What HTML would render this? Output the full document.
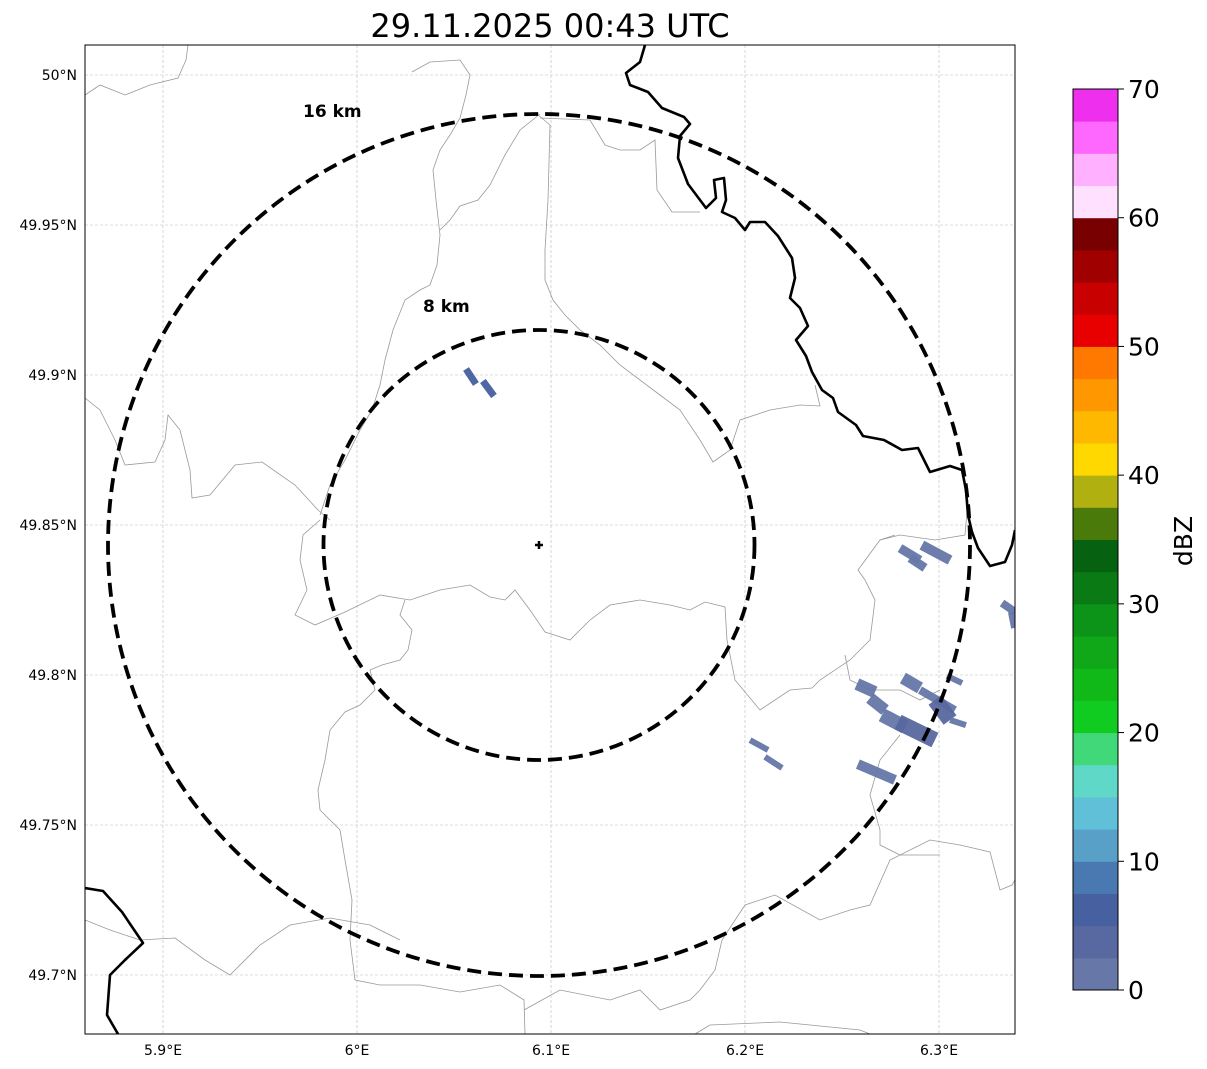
<!DOCTYPE html>
<html><head><meta charset="utf-8"><style>
html,body{margin:0;padding:0;background:#fff}
svg{display:block;font-family:"DejaVu Sans","Liberation Sans",sans-serif}
</style></head><body>
<svg id="chart" width="1207" height="1069" viewBox="0 0 1207 1069" xmlns="http://www.w3.org/2000/svg">
<rect width="1207" height="1069" fill="#fff"/>
<text x="550" y="37" font-size="32" text-anchor="middle">29.11.2025 00:43 UTC</text>
<defs><clipPath id="mapclip"><rect x="85" y="45" width="930" height="989"/></clipPath></defs>
<g id="grid"></g>
<g clip-path="url(#mapclip)">
 <g fill="none" stroke="#999" stroke-width="0.8">
  <polyline points="85,95 100,85 125,95 150,85 178,78 186,60 188,45"/>
  <polyline points="412,72 430,62 460,60 470,75 466,95 460,118 450,135 440,150 433,170 436,200 440,235 437,265 430,285 420,290 405,300 393,330 385,360 380,385 372,410 360,430 345,460 330,485 320,515"/>
  <polyline points="85,398 100,410 115,440 125,465 155,462 165,440 168,415 180,430 190,470 192,498 210,495 235,465 262,462 295,485 318,510 330,520"/>
  <polyline points="320,520 303,535 300,560 307,590 295,615 315,625 345,612 380,595 410,600 440,590 470,585 490,597 505,600 515,590 530,610 545,632 570,640 590,620 610,605 640,600 670,605 690,610 705,602 725,607 727,640 735,680 760,710 790,690 812,688 820,680 850,660 870,640 875,600 865,580 858,570 880,540 895,535"/>
  <polyline points="537,114 550,125 548,200 545,250 545,280 553,300 565,315 580,330 600,345 620,365 640,380 660,395 680,410 700,440 713,462 730,450 740,420 770,410 800,405 820,406 815,385"/>
  <polyline points="540,114 520,130 505,155 490,185 478,200 460,206 450,220 440,230"/>
  <polyline points="540,118 590,120 605,145 620,150 640,150 655,140 657,190 672,212 700,212"/>
  <polyline points="405,600 400,615 412,630 408,650 400,660 382,665 370,670 375,690 360,705 345,712 330,730 325,760 318,790 320,810 340,830 345,860 352,900 350,940 355,980 380,985 420,985 460,992 500,985 524,1000 525,1034"/>
  <polyline points="85,920 110,930 140,940 175,938 205,960 230,975 260,945 290,925 330,918 370,925 400,940"/>
  <polyline points="524,1010 560,990 610,1000 640,990 660,1010 690,1000 700,990 715,970 722,940 745,905 775,895 820,920 850,910 870,905 890,860 930,840 960,845 990,852 1000,890 1012,885 1015,880"/>
  <polyline points="845,655 850,680 870,690 900,690 920,700 940,690"/>
  <polyline points="880,540 900,535 935,540 965,535 968,500"/>
  <polyline points="695,1034 710,1025 780,1022 860,1030 870,1034"/>
  <polyline points="900,735 880,760 870,795 880,830 880,845 900,855 940,855"/>
 </g>
 <g fill="none" stroke="#000" stroke-width="2.6" stroke-linejoin="round">
  <polyline points="645,45 640,62 626,73 630,85 648,92 662,108 684,117 690,124 680,136 678,158 688,184 700,200 706,208 716,198 714,180 724,178 726,200 722,212 735,218 745,230 750,222 765,222 778,236 792,258 795,278 790,298 800,308 808,326 796,340 806,356 812,372 822,390 833,398 838,412 856,425 863,436 884,440 902,450 918,448 930,472 950,466 962,470 966,490 968,515 972,532 978,548 990,566 1005,562 1012,545 1015,530"/>
  <polyline points="85,888 103,891 122,912 143,943 125,960 110,975 107,1015 118,1034"/>
 </g>
 <g id="cells"></g>
 <ellipse cx="539" cy="545" rx="431" ry="431" fill="none" stroke="#000" stroke-width="3.8" stroke-dasharray="14,7"/>
 <ellipse cx="539" cy="545" rx="215.5" ry="215" fill="none" stroke="#000" stroke-width="3.8" stroke-dasharray="14,7"/>
 <path d="M535 545h8M539 541v8" stroke="#000" stroke-width="2.5"/>
 <text x="303" y="117" font-size="17" font-weight="bold">16 km</text>
 <text x="423" y="312" font-size="17" font-weight="bold">8 km</text>
</g>
<rect x="85" y="45" width="930" height="989" fill="none" stroke="#000" stroke-width="1"/>
<g id="ticks"></g>
<g id="cbar"></g>
<text transform="translate(1192,541) rotate(-90)" font-size="25" text-anchor="middle">dBZ</text>
</svg>
<script>
const lonTicks=[5.9,6.0,6.1,6.2,6.3];
const lonLabels=["5.9°E","6°E","6.1°E","6.2°E","6.3°E"];
const latTicks=[50.0,49.95,49.9,49.85,49.8,49.75,49.7];
const latLabels=["50°N","49.95°N","49.9°N","49.85°N","49.8°N","49.75°N","49.7°N"];
const cbColors=["#6677a8","#5868a0","#4660a0","#4a78b0","#58a0c8","#60c0d8","#60d8c8","#40d878","#10cc20","#10b818","#10a818","#0c9418","#0a7a14","#066210","#4a7a0a","#b0b010","#ffd800","#ffb800","#ff9800","#ff7800","#e80000","#c80000","#a00000","#780000","#ffe0ff","#ffb0ff","#ff68ff","#ee30ee"];
const cbTicks=[0,10,20,30,40,50,60,70];
const cellLon1=[6.0562,6.0649,6.2799,6.2851,6.2912,6.3325,6.3376,6.2577,6.2644,6.2706,6.2789,6.2814,6.2902,6.2979,6.3057,6.3041,6.2026,6.2103,6.2582];
const cellLat1=[49.9020,49.8980,49.8423,49.8390,49.8433,49.8240,49.8210,49.7970,49.7923,49.7867,49.7843,49.7990,49.7950,49.7917,49.7850,49.7997,49.7783,49.7727,49.7703];
const cellLon2=[6.0613,6.0706,6.2902,6.2928,6.3057,6.3392,6.3392,6.2670,6.2722,6.2825,6.2979,6.2902,6.3082,6.3057,6.3139,6.3119,6.2119,6.2191,6.2773];
const cellLat2=[49.8970,49.8930,49.8383,49.8357,49.8383,49.8210,49.8157,49.7943,49.7883,49.7827,49.7783,49.7957,49.7883,49.7850,49.7833,49.7973,49.7750,49.7690,49.7650];
const cellDbz=[5,5,2,2,2,2,2,2,2,2,3,2,2,3,2,2,1,1,2];
const cellWidth=[7,7,9,9,10,8,8,12,12,14,16,12,8,16,6,6,6,6,10];
const NS="http://www.w3.org/2000/svg";
const X=lon=>163+(lon-5.9)*1940;
const Y=lat=>75+(50-lat)*3000;
const CB=v=>990-v/70*901;
function mk(tag,attrs,parent){const e=document.createElementNS(NS,tag);for(const k in attrs)e.setAttribute(k,attrs[k]);parent.appendChild(e);return e;}
const grid=document.getElementById('grid'),ticks=document.getElementById('ticks');
lonTicks.forEach((v,i)=>{
 const l=mk('line',{x1:X(v),x2:X(v),y1:45,y2:1034,stroke:'#bbb','stroke-width':0.6,'stroke-dasharray':'3,2'},grid);
 
 
 const t=mk('text',{x:X(v),y:1055,'font-size':14,'text-anchor':'middle'},ticks);t.textContent=lonLabels[i];
 
 
});
latTicks.forEach((v,i)=>{
 const l=mk('line',{x1:85,x2:1015,y1:Y(v),y2:Y(v),stroke:'#bbb','stroke-width':0.6,'stroke-dasharray':'3,2'},grid);
 
 
 const t=mk('text',{x:77,y:Y(v)+5,'font-size':14,'text-anchor':'end'},ticks);t.textContent=latLabels[i];
 
 
});
const cells=document.getElementById('cells');
cellLon1.forEach((v,i)=>{
 const c=cbColors[Math.min(27,Math.floor(cellDbz[i]/2.5))];
 const l=mk('line',{x1:X(v),y1:Y(cellLat1[i]),x2:X(cellLon2[i]),y2:Y(cellLat2[i]),stroke:c,'stroke-width':cellWidth[i],'stroke-linecap':'butt',opacity:0.95},cells);
 
 
});
const cbar=document.getElementById('cbar');
cbColors.forEach((c,i)=>{
 const r=mk('rect',{x:1073,y:CB((i+1)*2.5),width:45,height:CB(i*2.5)-CB((i+1)*2.5)+0.5,fill:c},cbar);
 
 
});
mk('rect',{x:1073,y:89,width:45,height:901,fill:'none',stroke:'#000','stroke-width':1},cbar);
cbTicks.forEach(v=>{
 mk('line',{x1:1118,x2:1124,y1:CB(v),y2:CB(v),stroke:'#000'},cbar);
 const t=mk('text',{x:1128,y:CB(v)+9,'font-size':25},cbar);t.textContent=v;
 
 
});
</script>
</body></html>
